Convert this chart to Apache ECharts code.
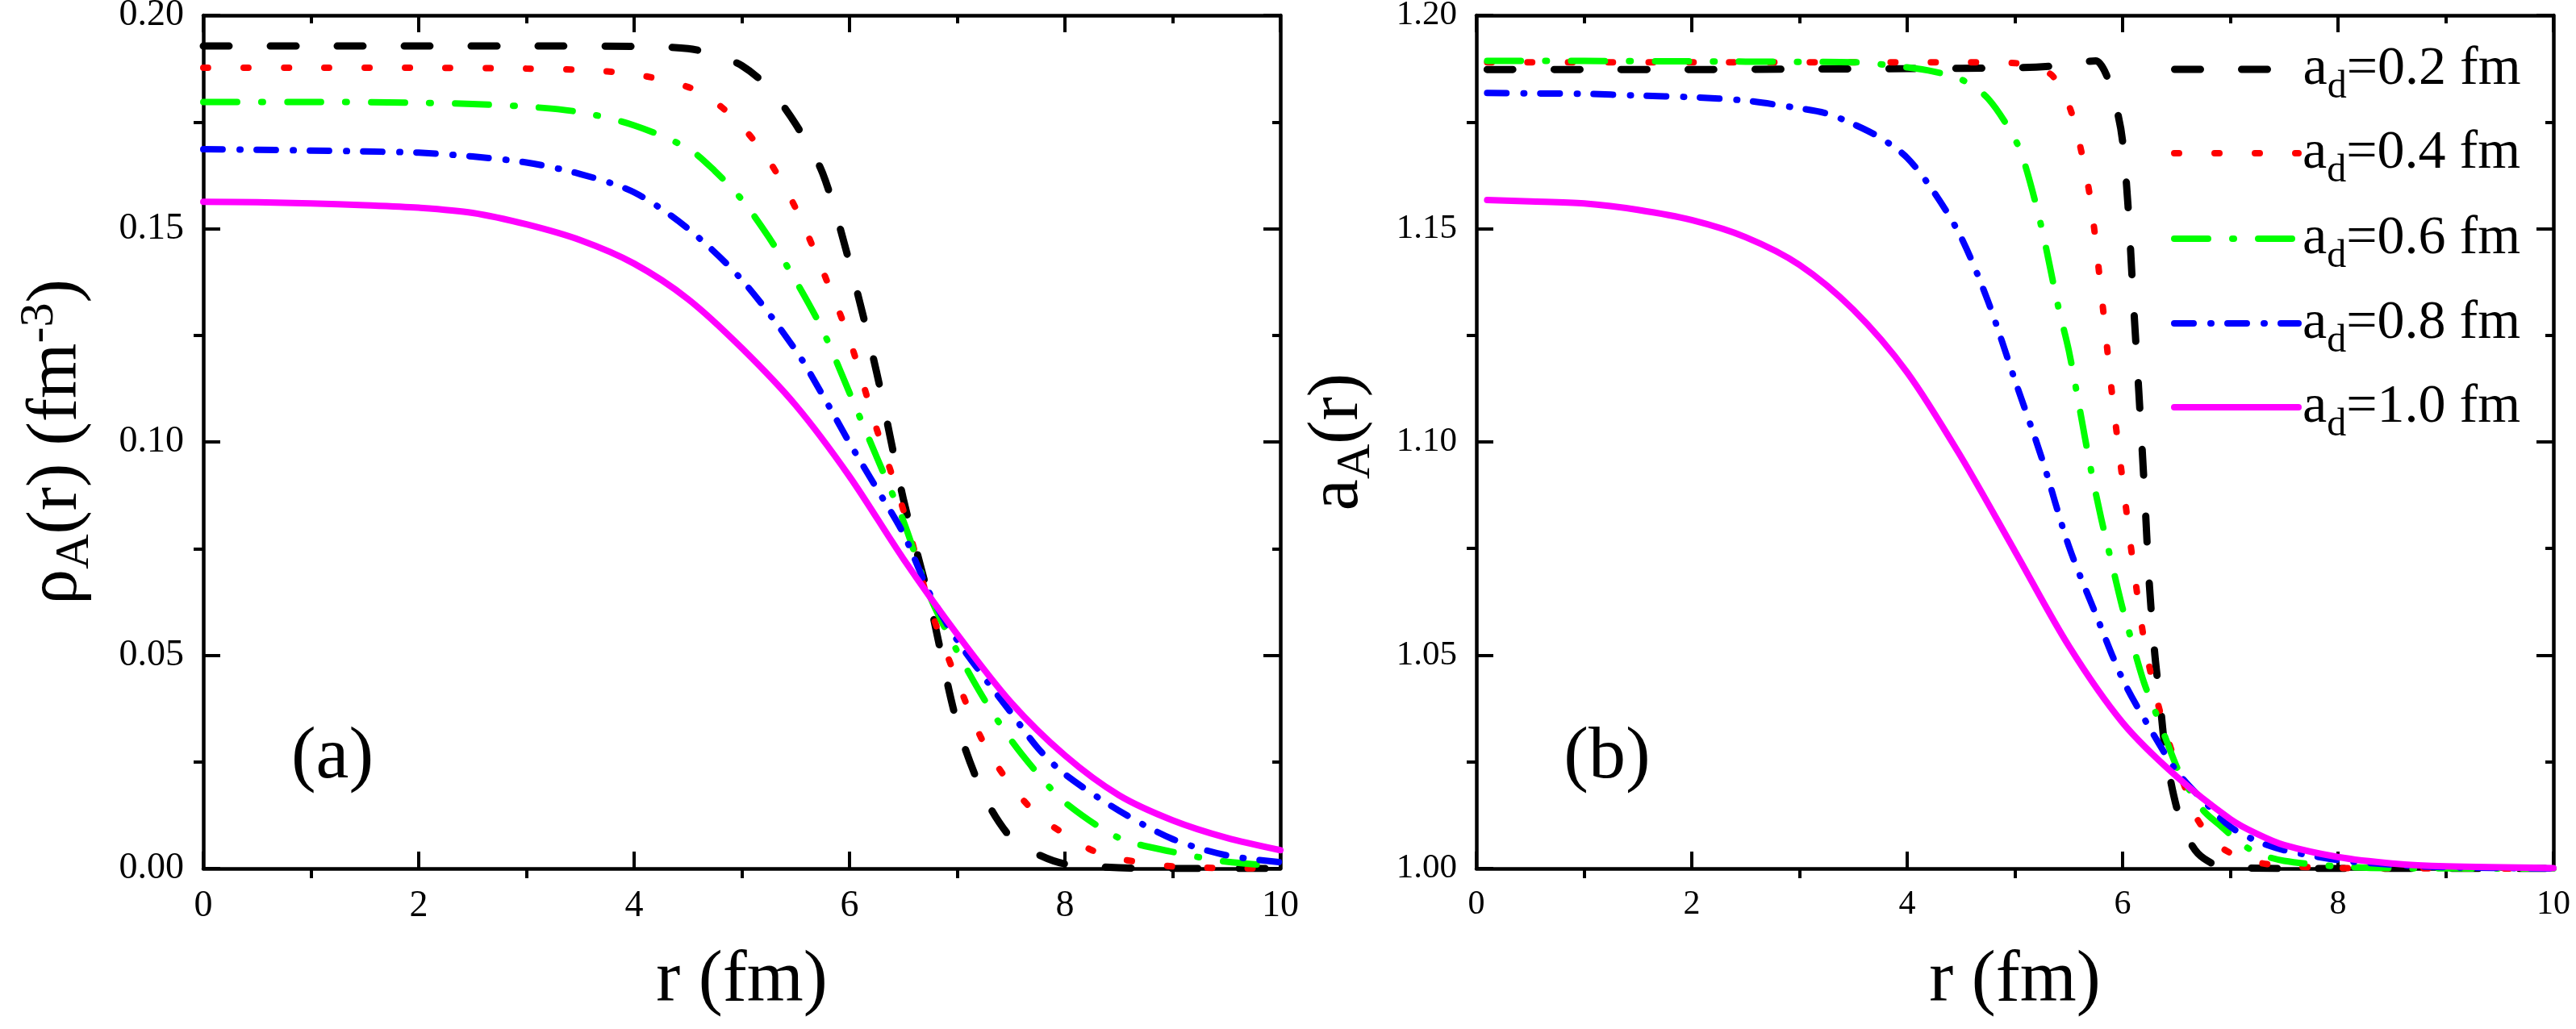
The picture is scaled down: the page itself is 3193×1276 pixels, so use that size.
<!DOCTYPE html>
<html>
<head>
<meta charset="utf-8">
<title>rho_A(r) / a_A(r)</title>
<script src="https://cdn.jsdelivr.net/npm/echarts@6/dist/echarts.min.js"></script>
<style>
html,body{margin:0;padding:0;background:#fff;}
#main{width:3193px;height:1276px;}
</style>
</head>
<body>
<div id="main"></div>
<script>
// legend names (a_d values)
var seriesNames = ['ad=0.2 fm', 'ad=0.4 fm', 'ad=0.6 fm', 'ad=0.8 fm', 'ad=1.0 fm'];
var xTicks = [0, 2, 4, 6, 8, 10];
var rhoTicks = [0, 0.05, 0.10, 0.15, 0.20];
var aTicks = [1.00, 1.05, 1.10, 1.15, 1.20];

// panel (a): rho_A(r)
var rhoX02 = [0, 1, 2, 3, 4, 4.5, 4.75, 5, 5.25, 5.5, 5.75, 6, 6.25, 6.5, 6.75, 7, 7.25, 7.5, 7.75, 8, 8.5, 9, 10];
var rho02 = [0.1928, 0.1928, 0.1928, 0.1928, 0.1927, 0.1922, 0.1908, 0.1882, 0.1830, 0.1745, 0.1630, 0.1420, 0.1165, 0.0866, 0.0620, 0.0340, 0.0170, 0.0072, 0.0033, 0.0011, 0.0002, 0, 0];
var rhoX04 = [0, 1, 2, 3, 3.5, 4, 4.5, 4.75, 5, 5.25, 5.5, 5.75, 6, 6.25, 6.5, 6.75, 7, 7.25, 7.5, 7.75, 8, 8.25, 8.5, 9, 9.5, 10];
var rho04 = [0.1877, 0.1877, 0.1877, 0.1875, 0.1872, 0.1862, 0.1832, 0.1797, 0.1740, 0.1660, 0.1548, 0.1402, 0.1240, 0.1032, 0.0840, 0.0611, 0.0440, 0.0292, 0.0195, 0.0125, 0.0080, 0.0043, 0.0023, 0.0005, 0.0001, 0];
var rhoX06 = [0, 1, 2, 2.5, 3, 3.5, 4, 4.5, 4.75, 5, 5.25, 5.5, 5.75, 6, 6.25, 6.5, 6.75, 7, 7.25, 7.5, 7.75, 8, 8.5, 9, 9.5, 10];
var rho06 = [0.1797, 0.1797, 0.1795, 0.1792, 0.1786, 0.1773, 0.1742, 0.1688, 0.1635, 0.1568, 0.1480, 0.1378, 0.1262, 0.1115, 0.0966, 0.0815, 0.0636, 0.0509, 0.0397, 0.0301, 0.0222, 0.0155, 0.0072, 0.0039, 0.0016, 0.0006];
var rhoX08 = [0, 0.5, 1, 1.5, 2, 2.5, 3, 3.5, 4, 4.5, 5, 5.5, 5.75, 6, 6.25, 6.5, 6.75, 7, 7.25, 7.5, 7.75, 8, 8.5, 9, 9.5, 10];
var rho08 = [0.1686, 0.1685, 0.1683, 0.1681, 0.1678, 0.1669, 0.1655, 0.1628, 0.1585, 0.1500, 0.1380, 0.1215, 0.1110, 0.0998, 0.0892, 0.0785, 0.0642, 0.0535, 0.0448, 0.0365, 0.0282, 0.0221, 0.0136, 0.0069, 0.0031, 0.0015];
var rhoX10 = [0, 0.5, 1, 1.5, 2, 2.5, 3, 3.5, 4, 4.5, 5, 5.5, 6, 6.5, 7, 7.5, 8, 8.5, 9, 9.5, 10];
var rho10 = [0.1563, 0.1562, 0.1559, 0.1555, 0.1549, 0.1537, 0.1510, 0.1473, 0.1418, 0.1335, 0.1220, 0.1086, 0.0919, 0.0726, 0.0549, 0.0389, 0.0265, 0.0172, 0.0113, 0.0072, 0.0043];

// panel (b): a_A(r)
var aX02 = [0.1, 1, 2, 3, 4, 5, 5.4, 5.6, 5.75, 5.85, 5.95, 6, 6.05, 6.1, 6.15, 6.2, 6.25, 6.3, 6.35, 6.4, 6.5, 6.6, 6.7, 6.85, 7, 7.5, 10];
var a02 = [1.1873, 1.1873, 1.1873, 1.1874, 1.1875, 1.1877, 1.1882, 1.1890, 1.1893, 1.1860, 1.1775, 1.1705, 1.1555, 1.1330, 1.1120, 1.0900, 1.0660, 1.0500, 1.0385, 1.0270, 1.0145, 1.0075, 1.0035, 1.0010, 1.0003, 1.0000, 1.0000];
var aX04 = [0.1, 1, 2, 3, 4, 4.5, 5, 5.2, 5.35, 5.5, 5.6, 5.7, 5.8, 5.9, 6, 6.1, 6.2, 6.3, 6.4, 6.5, 6.6, 6.7, 6.9, 7.2, 7.6, 8, 10];
var a04 = [1.1890, 1.1890, 1.1890, 1.1890, 1.1890, 1.1890, 1.1888, 1.1876, 1.1858, 1.1790, 1.1700, 1.1570, 1.1355, 1.1117, 1.0910, 1.0710, 1.0535, 1.0415, 1.0320, 1.0243, 1.0177, 1.0113, 1.0052, 1.0017, 1.0005, 1.0001, 1.0000];
var aX06 = [0.1, 1, 2, 3, 3.5, 4, 4.25, 4.5, 4.75, 5, 5.1, 5.25, 5.4, 5.5, 5.6, 5.7, 5.8, 5.9, 6, 6.1, 6.2, 6.3, 6.4, 6.5, 6.6, 6.75, 6.9, 7.1, 7.25, 7.5, 8, 8.5, 10];
var a06 = [1.1893, 1.1893, 1.1892, 1.1891, 1.1890, 1.1878, 1.1868, 1.1850, 1.1805, 1.1710, 1.1645, 1.1500, 1.1320, 1.1215, 1.1080, 1.0943, 1.0822, 1.0715, 1.0610, 1.0520, 1.0435, 1.0370, 1.0305, 1.0240, 1.0192, 1.0136, 1.0102, 1.0059, 1.0036, 1.0018, 1.0005, 1.0001, 1.0000];
var aX08 = [0.1, 0.5, 1, 1.5, 2, 2.5, 3, 3.25, 3.5, 3.75, 4, 4.25, 4.5, 4.75, 5, 5.25, 5.5, 5.75, 6, 6.25, 6.5, 6.75, 7, 7.25, 7.5, 8, 8.5, 9, 10];
var a08 = [1.1818, 1.1817, 1.1816, 1.1812, 1.1808, 1.1800, 1.1782, 1.1770, 1.1745, 1.1713, 1.1666, 1.1585, 1.1480, 1.1330, 1.1145, 1.0962, 1.0756, 1.0597, 1.0444, 1.0330, 1.0229, 1.0159, 1.0098, 1.0064, 1.0043, 1.0020, 1.0009, 1.0003, 1.0000];
var aX10 = [0.1, 0.5, 1, 1.5, 2, 2.5, 3, 3.5, 4, 4.5, 5, 5.5, 6, 6.5, 7, 7.25, 7.5, 8, 8.5, 9, 10];
var a10 = [1.1567, 1.1564, 1.1559, 1.1544, 1.1520, 1.1480, 1.1415, 1.1310, 1.1163, 1.0965, 1.0744, 1.0522, 1.0342, 1.0216, 1.0116, 1.0081, 1.0055, 1.0027, 1.0012, 1.0005, 1.0001];

var FONT = '"Liberation Serif", "Times New Roman", serif';
var lineColors = ['#000000', '#ff0000', '#00ff00', '#0000ff', '#ff00ff'];
var lineWidths = [9, 8, 8, 8, 8];
var lineDash = [[32, 51], [6, 44], [42, 30, 2, 30], [24, 21, 1, 20], 'solid'];

function pairs(xs, ys) {
	var out = [];
	for (var i = 0; i < xs.length; i++) {
		out.push([xs[i], ys[i]]);
	}
	return out;
}

// Origin-like frame: major ticks inside, minor ticks outside on left/bottom,
// everything inside on top/right
function frameAxes(gi, isX, min, max, interval, labelFmt, labelSize, name, nameGap, nameStyle) {
	var lineSt = {color: '#000', width: 4.5};
	var tickSt = {color: '#000', width: 4};
	var main = {
		type: 'value', gridIndex: gi, position: isX ? 'bottom' : 'left',
		min: min, max: max, interval: interval,
		axisLine: {show: true, onZero: false, lineStyle: lineSt},
		axisTick: {show: true, inside: true, length: 21, lineStyle: tickSt},
		minorTick: {show: false},
		splitLine: {show: false},
		axisLabel: {show: true, margin: isX ? 24 : 24, fontSize: labelSize, fontFamily: FONT, color: '#000', formatter: labelFmt},
		name: name, nameLocation: 'middle', nameGap: nameGap, nameMoveOverlap: false,
		nameTextStyle: nameStyle
	};
	var minor = {
		type: 'value', gridIndex: gi, position: isX ? 'bottom' : 'left',
		min: min, max: max, interval: interval,
		axisLine: {show: false, onZero: false},
		axisTick: {show: false, inside: false},
		minorTick: {show: true, splitNumber: 2, length: 12, lineStyle: tickSt},
		splitLine: {show: false}, minorSplitLine: {show: false},
		axisLabel: {show: false}
	};
	var opp = {
		type: 'value', gridIndex: gi, position: isX ? 'top' : 'right',
		min: min, max: max, interval: interval,
		axisLine: {show: true, onZero: false, lineStyle: lineSt},
		axisTick: {show: true, inside: true, length: 21, lineStyle: tickSt},
		minorTick: {show: true, splitNumber: 2, length: 10, lineStyle: tickSt},
		splitLine: {show: false}, minorSplitLine: {show: false},
		axisLabel: {show: false}
	};
	return [main, minor, opp];
}

var nameRich = {
	t: {fontSize: 88, fontFamily: FONT, color: '#000', lineHeight: 96},
	s: {fontSize: 60, fontFamily: FONT, color: '#000', lineHeight: 62, padding: [44, 0, 0, 0]},
	p: {fontSize: 60, fontFamily: FONT, color: '#000', lineHeight: 62, padding: [0, 0, 44, 0]}
};
var xNameStyle = {fontSize: 90, fontFamily: FONT, color: '#000'};
var yNameStyle = {fontSize: 88, fontFamily: FONT, color: '#000', rich: nameRich};

function fmt2(v) { return v.toFixed(2); }
function fmt0(v) { return String(v); }

var xAxes = frameAxes(0, true, xTicks[0], xTicks[xTicks.length - 1], 2, fmt0, 46, 'r (fm)', 95, xNameStyle)
	.concat(frameAxes(1, true, xTicks[0], xTicks[xTicks.length - 1], 2, fmt0, 42, 'r (fm)', 95, xNameStyle));
var yAxes = frameAxes(0, false, rhoTicks[0], rhoTicks[rhoTicks.length - 1], 0.05, fmt2, 46,
		'{t|ρ}{s|A}{t|(r) (fm}{p|-3}{t|)}', 133, yNameStyle)
	.concat(frameAxes(1, false, aTicks[0], aTicks[aTicks.length - 1], 0.05, fmt2, 43,
		'{t|a}{s|A}{t|(r)}', 123, yNameStyle));

var rhoData = [pairs(rhoX02, rho02), pairs(rhoX04, rho04), pairs(rhoX06, rho06), pairs(rhoX08, rho08), pairs(rhoX10, rho10)];
var aData = [pairs(aX02, a02), pairs(aX04, a04), pairs(aX06, a06), pairs(aX08, a08), pairs(aX10, a10)];

var series = [];
function addSeries(panel, data) {
	for (var i = 0; i < data.length; i++) {
		series.push({
			name: seriesNames[i],
			type: 'line',
			xAxisIndex: panel * 3,
			yAxisIndex: panel * 3,
			data: data[i],
			symbol: 'none',
			showSymbol: false,
			smooth: 0.3,
			clip: true,
			z: 2 + i,
			lineStyle: {color: lineColors[i], width: lineWidths[i], type: lineDash[i], cap: 'round', join: 'round'},
			itemStyle: {color: lineColors[i]}
		});
	}
}
addSeries(0, rhoData);
addSeries(1, aData);

// one legend block per row so the rows sit where the picture has them
var legendRows = [88, 192, 298, 403, 507];
var legends = [];
for (var k = 0; k < seriesNames.length; k++) {
	legends.push({
		left: 2691,
		top: legendRows[k] - 48,
		padding: 0,
		orient: 'vertical',
		selectedMode: false,
		itemWidth: 154,
		itemHeight: 10,
		itemStyle: {opacity: 0},
		lineStyle: {color: lineColors[k], width: lineWidths[k], type: lineDash[k], cap: 'round'},
		data: [seriesNames[k]],
		formatter: function (name) {
			return '{t|a}{s|d}{t|=' + name.split('=')[1] + '}';
		},
		textStyle: {
			color: '#000',
			fontFamily: FONT,
			fontSize: 68,
			rich: {
				t: {fontSize: 68, fontFamily: FONT, color: '#000', lineHeight: 76},
				s: {fontSize: 48, fontFamily: FONT, color: '#000', lineHeight: 52, padding: [44, 0, 0, 0]}
			}
		}
	});
}

var chart = echarts.init(document.getElementById('main'), null, {renderer: 'canvas'});
chart.setOption({
	backgroundColor: '#ffffff',
	animation: false,
	grid: [
		{left: 252, top: 19, width: 1335, height: 1058, containLabel: false, outerBoundsMode: 'none'},
		{left: 1830, top: 19, width: 1335, height: 1058, containLabel: false, outerBoundsMode: 'none'}
	],
	xAxis: xAxes,
	yAxis: yAxes,
	legend: legends,
	graphic: [
		{type: 'text', x: 412, y: 940, style: {text: '(a)', font: '92px "Liberation Serif"', fill: '#000', align: 'center', verticalAlign: 'middle'}},
		{type: 'text', x: 1992, y: 940, style: {text: '(b)', font: '92px "Liberation Serif"', fill: '#000', align: 'center', verticalAlign: 'middle'}}
	],
	series: series
});
</script>
</body>
</html>
